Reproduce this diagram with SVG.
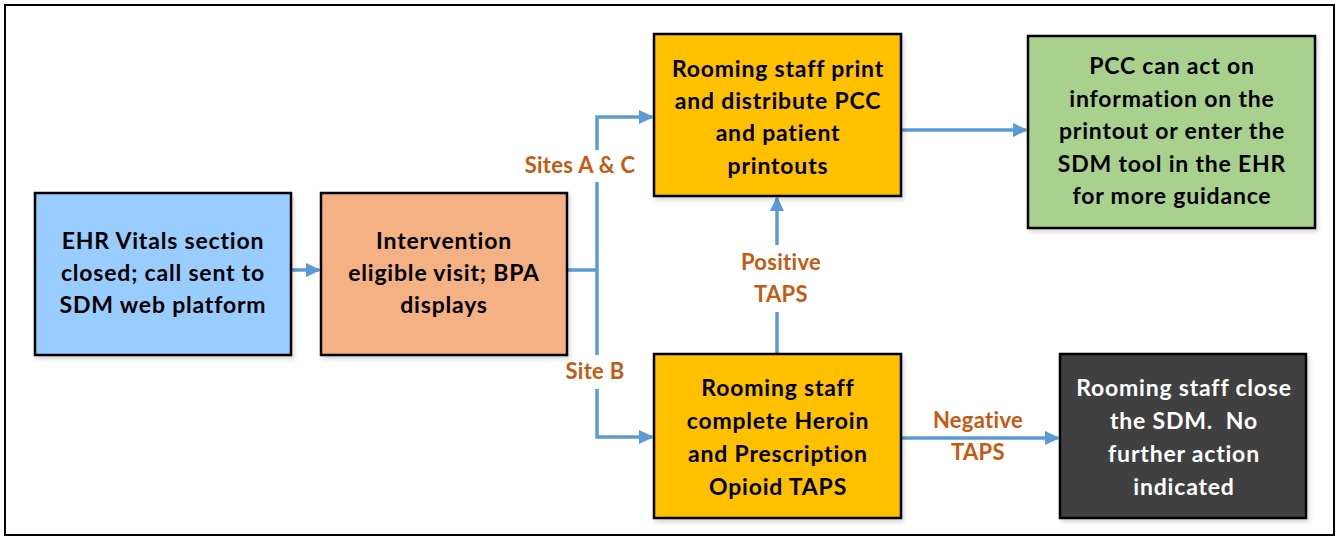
<svg xmlns="http://www.w3.org/2000/svg" width="1339" height="540" viewBox="0 0 1339 540">
<style>
.box{stroke:#000;stroke-width:2.5}
.t{font-family:Lato,"Liberation Sans",sans-serif;font-weight:bold;font-size:23px;letter-spacing:0.8px;text-anchor:middle;fill:#000}
.w{fill:#fff}
.lab{font-family:Lato,"Liberation Sans",sans-serif;font-weight:bold;font-size:22px;letter-spacing:0.3px;text-anchor:middle;fill:#C55A11}
.c{fill:none;stroke:#5B9BD5;stroke-width:3.5}
</style>
<defs>
<marker id="ah" markerWidth="15" markerHeight="14" refX="13" refY="7" orient="auto" markerUnits="userSpaceOnUse" viewBox="0 0 15 14">
<path d="M0,0 L15,7 L0,14 z" fill="#5B9BD5"/>
</marker>
<filter id="sh" x="-5%" y="-5%" width="115%" height="115%">
<feDropShadow dx="2" dy="3" stdDeviation="2" flood-color="#000" flood-opacity="0.15"/>
</filter>
</defs>
<rect x="5" y="5" width="1329" height="530" fill="#fff" stroke="#000" stroke-width="2"/>

<g id="connectors">
<path class="c" d="M291,270 H319" marker-end="url(#ah)"/>
<path class="c" d="M567,270 H597"/>
<path class="c" d="M597,150 V117 H652" marker-end="url(#ah)"/>
<path class="c" d="M597,182 V355"/>
<path class="c" d="M597,389 V437 H652" marker-end="url(#ah)"/>
<path class="c" d="M901,130 H1026" marker-end="url(#ah)"/>
<path class="c" d="M777,354 V312"/>
<path class="c" d="M777,245 V198" marker-end="url(#ah)"/>
<path class="c" d="M901,438 H1058" marker-end="url(#ah)"/>
<text class="lab" x="580" y="173">Sites A &amp; C</text>
<text class="lab" x="595" y="379">Site B</text>
<text class="lab" x="781" y="270">Positive</text>
<text class="lab" x="781" y="302">TAPS</text>
<text class="lab" x="978" y="428">Negative</text>
<text class="lab" x="978" y="460">TAPS</text>
</g>

<g id="ehr">
<rect class="box" x="35" y="193" width="256" height="162" fill="#99CCFF" filter="url(#sh)"/>
<text class="t" x="163" y="249">EHR Vitals section</text>
<text class="t" x="163" y="281">closed; call sent to</text>
<text class="t" x="163" y="313">SDM web platform</text>
</g>

<g id="intervention">
<rect class="box" x="321" y="193" width="246" height="162" fill="#F4B183" filter="url(#sh)"/>
<text class="t" x="444" y="249">Intervention</text>
<text class="t" x="444" y="281">eligible visit; BPA</text>
<text class="t" x="444" y="313">displays</text>
</g>

<g id="print">
<rect class="box" x="654" y="34" width="247" height="162" fill="#FFC000" filter="url(#sh)"/>
<text class="t" x="778" y="77">Rooming staff print</text>
<text class="t" x="778" y="109">and distribute PCC</text>
<text class="t" x="778" y="141">and patient</text>
<text class="t" x="778" y="174">printouts</text>
</g>

<g id="pcc">
<rect class="box" x="1028" y="36" width="287" height="192" fill="#A9D18E" filter="url(#sh)"/>
<text class="t" x="1172" y="74">PCC can act on</text>
<text class="t" x="1172" y="107">information on the</text>
<text class="t" x="1172" y="139">printout or enter the</text>
<text class="t" x="1172" y="172">SDM tool in the EHR</text>
<text class="t" x="1172" y="204">for more guidance</text>
</g>

<g id="taps">
<rect class="box" x="654" y="354" width="247" height="164" fill="#FFC000" filter="url(#sh)"/>
<text class="t" x="778" y="396">Rooming staff</text>
<text class="t" x="778" y="429">complete Heroin</text>
<text class="t" x="778" y="462">and Prescription</text>
<text class="t" x="778" y="495">Opioid TAPS</text>
</g>

<g id="close">
<rect class="box" x="1060" y="354" width="246" height="164" fill="#404040" filter="url(#sh)"/>
<text class="t w" x="1184" y="396">Rooming staff close</text>
<text class="t w" x="1184" y="429" xml:space="preserve">the SDM.  No</text>
<text class="t w" x="1184" y="462">further action</text>
<text class="t w" x="1184" y="495">indicated</text>
</g>
</svg>
